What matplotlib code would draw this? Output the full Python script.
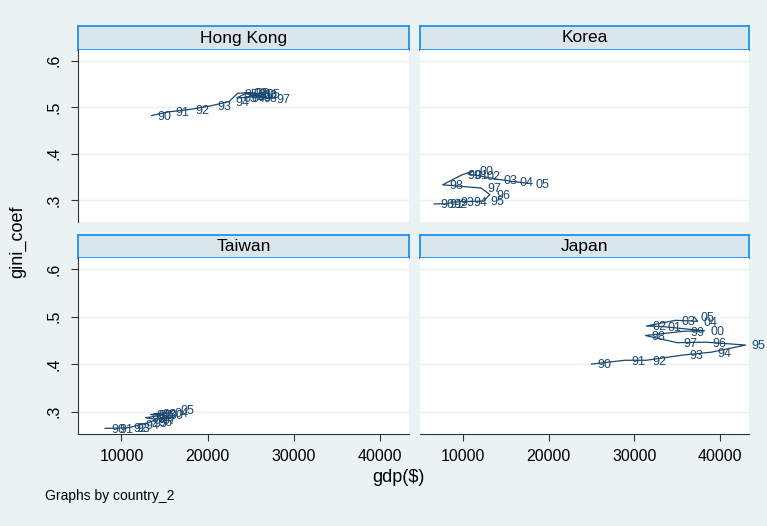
import matplotlib.pyplot as plt

plt.rcParams['font.family'] = ['Liberation Sans', 'DejaVu Sans']

years = ['90', '91', '92', '93', '94', '95', '96', '97',
         '98', '99', '00', '01', '02', '03', '04', '05']

# GDP per capita (US$) and gini coefficient by country, 1990-2005
hk_gdp = [13500, 15500, 17900, 20400, 22500, 23500, 24800, 27300,
          25800, 25100, 25800, 25200, 24600, 23400, 24400, 26100]
hk_gini = [0.482, 0.490, 0.495, 0.503, 0.512, 0.530, 0.531, 0.519,
           0.520, 0.522, 0.528, 0.530, 0.531, 0.520, 0.521, 0.530]

kr_gdp = [6600, 7600, 8100, 8900, 10400, 12400, 13100, 12100,
          7600, 9800, 11200, 10600, 12000, 14000, 15900, 17700]
kr_gini = [0.292, 0.292, 0.292, 0.296, 0.297, 0.298, 0.312, 0.326,
           0.333, 0.354, 0.363, 0.356, 0.352, 0.345, 0.340, 0.336]

tw_gdp = [8100, 9000, 10600, 11000, 12000, 13000, 13600, 14000,
          12800, 13800, 14900, 13400, 13600, 14000, 15400, 16100]
tw_gini = [0.265, 0.265, 0.266, 0.267, 0.272, 0.276, 0.280, 0.284,
           0.287, 0.290, 0.293, 0.294, 0.294, 0.296, 0.297, 0.304]

jp_gdp = [25000, 28900, 31400, 35700, 39000, 43000, 38400, 35000,
          31300, 35800, 38200, 33200, 31400, 34800, 37400, 37000]
jp_gini = [0.400, 0.408, 0.408, 0.419, 0.425, 0.440, 0.446, 0.445,
           0.460, 0.469, 0.470, 0.479, 0.480, 0.492, 0.490, 0.499]

panels = [('Hong Kong', hk_gdp, hk_gini),
          ('Korea', kr_gdp, kr_gini),
          ('Taiwan', tw_gdp, tw_gini),
          ('Japan', jp_gdp, jp_gini)]

BG = '#eaf2f3'
STRIP = '#d9e6eb'
STRIP_EDGE = '#1e90f0'
NAVY = '#1a476f'
W, H = 767, 526


def px_box(x0, y0, x1, y1):
    """Convert a pixel box (top-left origin) to figure fractions."""
    return [x0 / W, 1 - y1 / H, (x1 - x0) / W, (y1 - y0) / H]


fig = plt.figure(figsize=(W / 100, H / 100), dpi=100, facecolor=BG)

cols = [(78, 409), (420, 749)]
rows = [(26, 50, 222), (235, 258, 434)]

for i, (name, gdp, gini) in enumerate(panels):
    r, c = divmod(i, 2)
    x0, x1 = cols[c]
    s0, s1, y1 = rows[r]

    strip = fig.add_axes(px_box(x0, s0, x1, s1))
    strip.set_facecolor(STRIP)
    strip.set_xticks([])
    strip.set_yticks([])
    for sp in strip.spines.values():
        sp.set_color(STRIP_EDGE)
        sp.set_linewidth(1.3)
    strip.text(0.5, 0.5, name, ha='center', va='center', fontsize=12.5,
               transform=strip.transAxes)

    ax = fig.add_axes(px_box(x0, s1, x1, y1))
    ax.set_facecolor('white')
    ax.plot(gdp, gini, color=NAVY, lw=0.9)
    for g, v, yr in zip(gdp, gini, years):
        ax.annotate(yr, (g, v), xytext=(4.5, -1), textcoords='offset points',
                    ha='left', va='center', fontsize=9, color=NAVY)
    ax.set_xlim(4950, 43400)
    ax.set_ylim(0.253, 0.623)
    ax.set_yticks([0.3, 0.4, 0.5, 0.6])
    ax.set_xticks([10000, 20000, 30000, 40000])
    ax.grid(axis='y', color=BG, lw=1)
    ax.set_axisbelow(True)
    for sp in ax.spines.values():
        sp.set_visible(False)

    if c == 0:
        ax.spines['left'].set_visible(True)
        ax.spines['left'].set_color('#333333')
        ax.set_yticklabels(['.3', '.4', '.5', '.6'], rotation=90,
                           va='center', fontsize=11.5)
        ax.tick_params(axis='y', length=5, pad=7, color='#333333')
    else:
        ax.tick_params(axis='y', left=False, labelleft=False)

    if r == 1:
        ax.spines['bottom'].set_visible(True)
        ax.spines['bottom'].set_color('#333333')
        ax.set_xticklabels(['10000', '20000', '30000', '40000'],
                           fontsize=11.5)
        ax.tick_params(axis='x', length=5, pad=6, color='#333333')
    else:
        ax.tick_params(axis='x', bottom=False, labelbottom=False)

fig.text(18 / W, 1 - 242 / H, 'gini_coef', rotation=90, ha='center',
         va='center', fontsize=13)
fig.text(398 / W, 1 - 477 / H, 'gdp($)', ha='center', va='center',
         fontsize=13)
fig.text(45 / W, 1 - 496 / H, 'Graphs by country_2', ha='left',
         va='center', fontsize=10)

fig.savefig('out.png', dpi=100, facecolor=BG)
